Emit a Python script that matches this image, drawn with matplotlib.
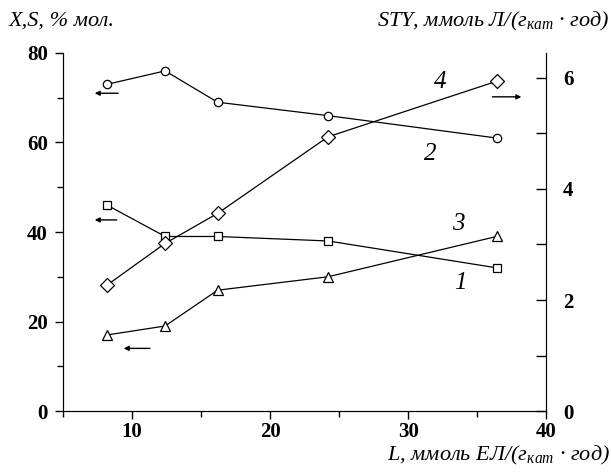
import matplotlib
matplotlib.use('Agg')
import matplotlib.pyplot as plt
from matplotlib.ticker import MultipleLocator

plt.rcParams['font.family'] = ['Liberation Serif', 'DejaVu Serif']
plt.rcParams['mathtext.fontset'] = 'custom'
plt.rcParams['mathtext.rm'] = 'Liberation Serif'
plt.rcParams['mathtext.it'] = 'Liberation Serif:italic'

# L, mmol/(g_cat*h)
load = [8.2, 12.4, 16.2, 24.2, 36.4]
# left axis, % mol
conv_1 = [46, 39, 39, 38, 32]        # squares
sel_2 = [73, 76, 69, 66, 61]         # circles
conv_3 = [17, 19, 27, 30, 39]        # triangles
# right axis, STY
sty_4 = [2.27, 3.02, 3.56, 4.94, 5.94]  # diamonds

fig = plt.figure(figsize=(6.11, 4.73), dpi=100)
ax = fig.add_axes([0.103, 0.131, 0.791, 0.757])
ax2 = ax.twinx()

style = dict(color='black', lw=0.9, mfc='white', mec='black', mew=0.9, ms=6)
ax.plot(load, conv_1, marker='s', **style)
ax.plot(load, sel_2, marker='o', **style)
ax.plot(load, conv_3, marker='^', **dict(style, ms=7))
ax2.plot(load, sty_4, marker='D', **dict(style, ms=7))

ax.set_xlim(5, 40)
ax.set_ylim(0, 80)
ax2.set_ylim(0, 6.45)

for a in (ax, ax2):
    a.spines['top'].set_visible(False)
ax.xaxis.set_major_locator(MultipleLocator(10))
ax.xaxis.set_minor_locator(MultipleLocator(5))
ax.yaxis.set_major_locator(MultipleLocator(20))
ax.yaxis.set_minor_locator(MultipleLocator(10))
ax2.yaxis.set_major_locator(MultipleLocator(2))
ax2.yaxis.set_minor_locator(MultipleLocator(1))

tick_font = dict(labelsize=15)
ax.tick_params(axis='both', which='major', direction='out', length=6, width=1, pad=5, **tick_font)
ax.tick_params(axis='x', which='major', pad=2)
ax.tick_params(axis='both', which='minor', direction='out', length=4, width=1)
ax2.tick_params(axis='y', which='major', direction='in', length=7, width=1, pad=12, **tick_font)
ax2.tick_params(axis='y', which='minor', direction='in', length=7, width=1)
for lbl in ax.get_xticklabels() + ax.get_yticklabels() + ax2.get_yticklabels():
    lbl.set_fontweight('bold')

# curve numbers
num_font = dict(fontsize=18, style='italic', ha='center', va='center')
ax.text(33.8, 28.5, '1', **num_font)
ax.text(31.6, 57.5, '2', **num_font)
ax.text(33.6, 41.8, '3', **num_font)
ax.text(32.3, 73.5, '4', **num_font)

# arrows pointing to the axis of each curve
arrow = dict(arrowstyle='-|>', color='black', lw=1.0, mutation_scale=7)
ax.annotate('', xy=(7.1, 71), xytext=(9.2, 71), arrowprops=arrow)
ax.annotate('', xy=(7.1, 42.7), xytext=(9.1, 42.7), arrowprops=arrow)
ax.annotate('', xy=(9.2, 14), xytext=(11.5, 14), arrowprops=arrow)
ax2.annotate('', xy=(38.4, 5.66), xytext=(35.9, 5.66), arrowprops=arrow)

lab = dict(fontsize=16, style='italic')
fig.text(0.015, 0.955, 'X,S, % мол.', ha='left', va='center', **lab)
fig.text(0.998, 0.955, r'STY, ммоль Л/(г$_{\mathit{кат}}$ · год)', ha='right', va='center', **lab)
fig.text(0.998, 0.026, r'L, ммоль ЕЛ/(г$_{\mathit{кат}}$ · год)', ha='right', va='baseline', **lab)

fig.savefig('out.png', dpi=100)
